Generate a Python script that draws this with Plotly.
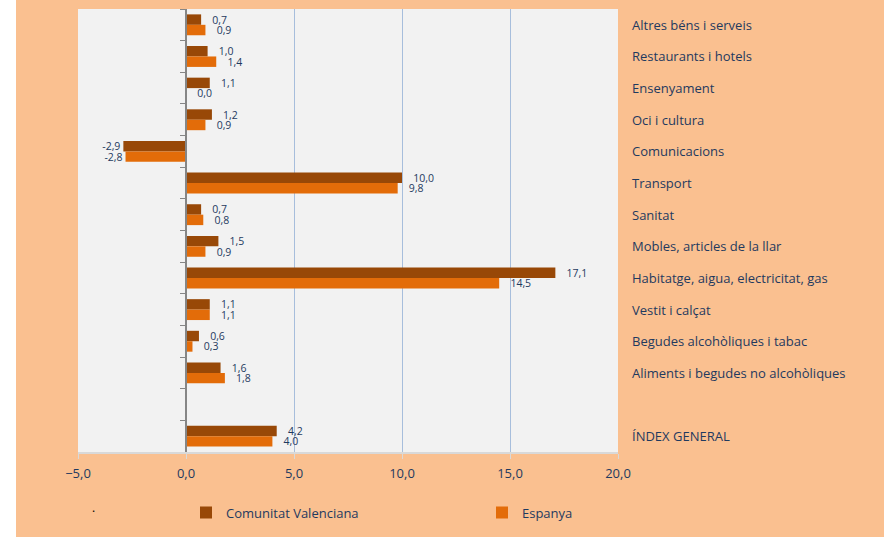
import plotly.graph_objects as go

categories = [
    "Altres béns i serveis",
    "Restaurants i hotels",
    "Ensenyament",
    "Oci i cultura",
    "Comunicacions",
    "Transport",
    "Sanitat",
    "Mobles, articles de la llar",
    "Habitatge, aigua, electricitat, gas",
    "Vestit i calçat",
    "Begudes alcohòliques i tabac",
    "Aliments i begudes no alcohòliques",
    " ",
    "ÍNDEX GENERAL",
]
comunitat_valenciana = [0.7, 1.0, 1.1, 1.2, -2.9, 10.0, 0.7, 1.5, 17.1, 1.1, 0.6, 1.6, None, 4.2]
espanya = [0.9, 1.4, 0.0, 0.9, -2.8, 9.8, 0.8, 0.9, 14.5, 1.1, 0.3, 1.8, None, 4.0]
series_names = ["Comunitat Valenciana", "Espanya"]
x_ticks = [-5, 0, 5, 10, 15, 20]

TXT = "#1F3A5F"
FONT = "Open Sans"
NB = "\u00a0"


def label(v):
    if v is None:
        return ""
    s = f"{v:.1f}".replace(".", ",")
    return s if v < 0 else NB * 3 + s


fig = go.Figure()
for name, vals, col, lg in [(series_names[0], comunitat_valenciana, "#984807", "legend"),
                            (series_names[1], espanya, "#E36C09", "legend2")]:
    fig.add_trace(go.Bar(
        y=categories, x=vals, name=name, orientation="h", legend=lg,
        marker=dict(color=col, line=dict(width=0)),
        text=[label(v) for v in vals], textposition="outside", cliponaxis=False,
        constraintext="none",
        textfont=dict(family=FONT, size=10.5, color=TXT),
    ))

for c in categories:
    fig.add_annotation(x=1, xref="paper", y=c, yref="y", text=c, showarrow=False,
                       xanchor="left", xshift=12, font=dict(family=FONT, size=13, color=TXT))

fig.add_annotation(x=(90 - 78) / 540, xref="paper", y=-(524 - 457) / 448, yref="paper",
                   text=".", showarrow=False, font=dict(family=FONT, size=12, color="#000000"))

# white strip at the left of the picture
fig.add_shape(type="rect", xref="paper", yref="paper", x0=-0.2, x1=(16 - 78) / 540,
              y0=-0.3, y1=1.1, fillcolor="white", line=dict(width=0), layer="below")

leg_common = dict(orientation="h", y=-(503 - 457) / 448, xanchor="left", yanchor="top",
                  bgcolor="rgba(0,0,0,0)", font=dict(family=FONT, size=13, color=TXT))

fig.update_layout(
    width=884, height=537,
    margin=dict(l=78, r=266, t=9, b=80),
    paper_bgcolor="#FAC090", plot_bgcolor="#F2F2F2",
    barmode="group", bargap=0.34, bargroupgap=0,
    separators=",.",
    showlegend=True,
    legend=dict(x=(186 - 78) / 540, **leg_common),
    legend2=dict(x=(482 - 78) / 540, **leg_common),
    xaxis=dict(range=[-5, 20], tickvals=x_ticks, tickformat=".1f",
               showgrid=True, gridcolor="#A7BEDC", gridwidth=1.2, zeroline=False,
               showline=True, linecolor="#D9D9D9", linewidth=1.5,
               ticks="outside", ticklen=5, tickcolor="#D9D9D9", ticklabelstandoff=4,
               tickfont=dict(family=FONT, size=13, color=TXT)),
    yaxis=dict(categoryorder="array", categoryarray=categories, autorange="reversed",
               anchor="free", position=0.2, showline=True, linecolor="#868686", linewidth=1.5,
               ticks="outside", tickson="boundaries", ticklen=5, tickcolor="#868686",
               showticklabels=False, showgrid=False, zeroline=False),
    font=dict(family=FONT, color=TXT),
)

fig.write_html("out.html", post_script="document.body.style.margin='0';",
               config={"displayModeBar": False})
